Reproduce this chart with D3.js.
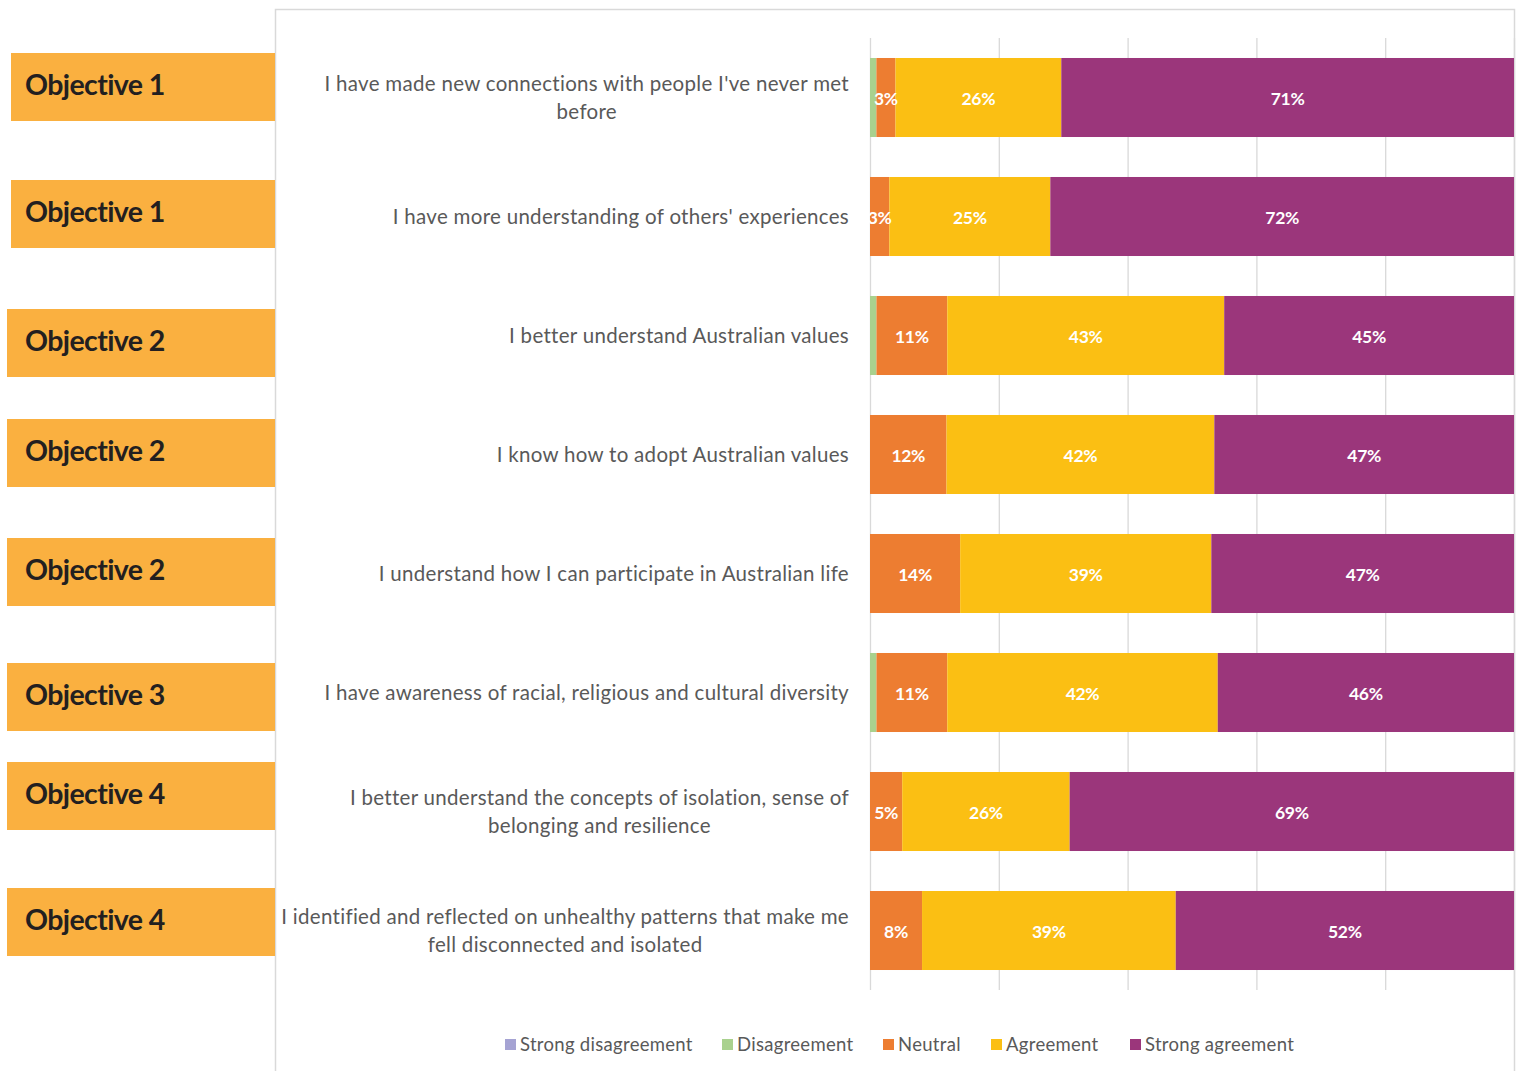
<!DOCTYPE html>
<html>
<head>
<meta charset="utf-8">
<script src="https://cdn.jsdelivr.net/npm/d3@7"></script>
<style>
  html, body { margin: 0; padding: 0; background: #ffffff; }
  svg { display: block; }
</style>
</head>
<body>
<svg id="chart" width="1522" height="1071"></svg>
<script>
// Survey statements (one row each) and the objective each one belongs to
const statements = [
  ["I have made new connections with people I've never met", "before"],
  ["I have more understanding of others' experiences"],
  ["I better understand Australian values"],
  ["I know how to adopt Australian values"],
  ["I understand how I can participate in Australian life"],
  ["I have awareness of racial, religious and cultural diversity"],
  ["I better understand the concepts of isolation, sense of", "belonging and resilience"],
  ["I identified and reflected on unhealthy patterns that make me", "fell disconnected and isolated"]
];
const objectives = ["Objective 1", "Objective 1", "Objective 2", "Objective 2",
                    "Objective 2", "Objective 3", "Objective 4", "Objective 4"];

// Response categories, in stacking order
const responses = ["Strong disagreement", "Disagreement", "Neutral", "Agreement", "Strong agreement"];

// Percentage of respondents per response, one array per category
const strongDisagreement = [0, 0, 0, 0, 0, 0, 0, 0];
const disagreement       = [1, 0, 1, 0, 0, 1, 0, 0];
const neutral            = [3, 3, 11, 12, 14, 11, 5, 8];
const agreement          = [26, 25, 43, 42, 39, 42, 26, 39];
const strongAgreement    = [71, 72, 45, 47, 47, 46, 69, 52];

// Axis ticks (percent of row total)
const xTicks = [0, 20, 40, 60, 80, 100];

// Layout: top edge of each objective tag on the left
const objectiveBoxTop = [53, 180, 309, 419, 538, 663, 762, 888];
const objectiveBoxLeft = [11, 11, 7, 7, 7, 7, 7, 7];

const colors = ["#a5a3d3", "#a9d18e", "#ed7d31", "#fbbf13", "#9b367b"];

const svg = d3.select("#chart");

const seriesValues = [strongDisagreement, disagreement, neutral, agreement, strongAgreement];
const rows = statements.map((s, i) => {
  const row = { idx: i };
  responses.forEach((r, k) => { row[r] = seriesValues[k][i]; });
  row.total = d3.sum(seriesValues, v => v[i]);
  return row;
});

// Normalise each row to 100% like a 100% stacked bar
const normRows = rows.map(r => {
  const o = { idx: r.idx };
  responses.forEach(k => { o[k] = r[k] / r.total * 100; });
  return o;
});
const stacked = d3.stack().keys(responses)(normRows);

const plot = { left: 870, right: 1514, top: 38, bottom: 990 };

const x = d3.scaleLinear().domain([0, 100]).range([plot.left, plot.right]);
const y = d3.scaleBand()
  .domain(d3.range(statements.length))
  .range([plot.top, plot.bottom])
  .paddingInner(0.336)
  .paddingOuter(0.168);

// Chart frame
svg.append("rect")
  .attr("x", 275.5).attr("y", 9.5)
  .attr("width", 1514.5 - 275.5).attr("height", 1100)
  .attr("fill", "none").attr("stroke", "#d9d9d9").attr("stroke-width", 1.5);

// Vertical gridlines via the axis
const grid = svg.append("g")
  .attr("transform", `translate(0,${plot.bottom})`)
  .call(d3.axisBottom(x).tickValues(xTicks).tickSize(-(plot.bottom - plot.top)).tickFormat(""));
grid.select(".domain").remove();
grid.selectAll(".tick line").attr("stroke", "#d9d9d9").attr("stroke-width", 1.3);

// Stacked bars
const layer = svg.append("g").selectAll("g")
  .data(stacked).join("g")
  .attr("fill", (d, i) => colors[i]);

layer.selectAll("rect")
  .data(d => d.map(p => ({ p, key: d.key })))
  .join("rect")
  .attr("x", d => x(d.p[0]))
  .attr("y", d => y(d.p.data.idx))
  .attr("width", d => Math.max(0, x(d.p[1]) - x(d.p[0])))
  .attr("height", y.bandwidth());

// Value labels on segments that carry a label (neutral, agreement, strong agreement)
const labelled = ["Neutral", "Agreement", "Strong agreement"];
const labelG = svg.append("g");
stacked.filter(s => labelled.includes(s.key)).forEach(s => {
  s.forEach(p => {
    const raw = rows[p.data.idx][s.key];
    if (raw <= 0) return;
    labelG.append("text")
      .attr("x", (x(p[0]) + x(p[1])) / 2)
      .attr("y", y(p.data.idx) + y.bandwidth() / 2 + 1)
      .attr("dy", "0.35em")
      .attr("text-anchor", "middle")
      .attr("fill", "#ffffff")
      .attr("font-family", "Lato, 'Open Sans', sans-serif")
      .attr("font-weight", 700)
      .attr("font-size", 17.5)
      .attr("letter-spacing", -0.3)
      .text(raw + "%");
  });
});

// Statement labels, right aligned block with centred lines
const catG = svg.append("g");
statements.forEach((lines, i) => {
  const g = catG.append("g");
  const lh = 28;
  const cy = y(i) + y.bandwidth() / 2;
  const texts = lines.map((t, j) => g.append("text")
    .attr("y", cy + (j - (lines.length - 1) / 2) * lh)
    .attr("dy", "0.35em")
    .attr("text-anchor", "middle")
    .attr("fill", "#595959")
    .attr("font-family", "Lato, 'Open Sans', sans-serif")
    .attr("font-size", 20.5)
    .attr("letter-spacing", 0.3)
    .text(t));
  const maxW = d3.max(texts, t => t.node().getComputedTextLength());
  texts.forEach(t => t.attr("x", 849 - maxW / 2));
});

// Objective tags on the left
const tagG = svg.append("g");
objectives.forEach((o, i) => {
  const top = objectiveBoxTop[i], left = objectiveBoxLeft[i];
  tagG.append("rect")
    .attr("x", left).attr("y", top)
    .attr("width", 275 - left).attr("height", 68)
    .attr("fill", "#fab040");
  tagG.append("text")
    .attr("x", 25).attr("y", top + 32)
    .attr("dy", "0.36em")
    .attr("fill", "#231f20")
    .attr("font-family", "Lato, 'Noto Sans', sans-serif")
    .attr("font-weight", 700)
    .attr("font-size", 28.5)
    .attr("letter-spacing", -0.6)
    .text(o);
});

// Legend
const legendX = [505, 722, 883, 991, 1130];
const legend = svg.append("g");
responses.forEach((r, i) => {
  legend.append("rect")
    .attr("x", legendX[i]).attr("y", 1039)
    .attr("width", 11).attr("height", 11)
    .attr("fill", colors[i]);
  legend.append("text")
    .attr("x", legendX[i] + 15).attr("y", 1045)
    .attr("dy", "0.35em")
    .attr("fill", "#595959")
    .attr("font-family", "Lato, 'Open Sans', sans-serif")
    .attr("font-size", 18.5)
    .attr("letter-spacing", 0.3)
    .text(r);
});
</script>
</body>
</html>
